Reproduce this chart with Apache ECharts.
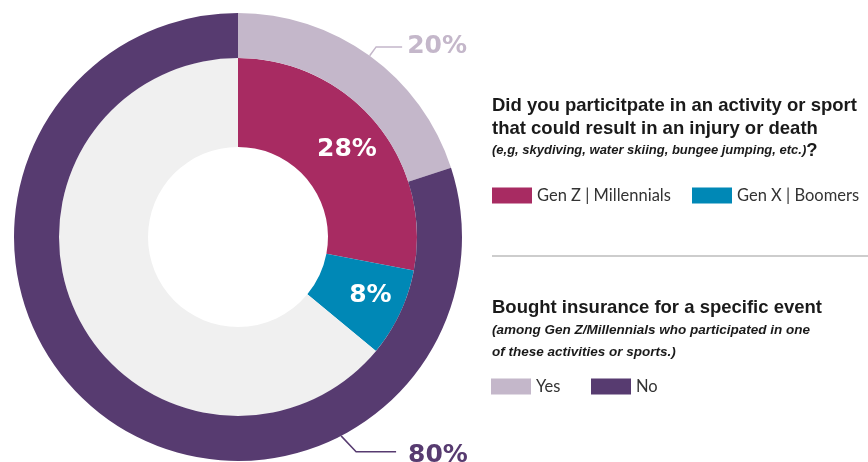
<!DOCTYPE html>
<html>
<head>
<meta charset="utf-8">
<style>
  html, body { margin: 0; padding: 0; background: #ffffff; }
  #chart { width: 868px; height: 462px; }
</style>
<script src="https://cdn.jsdelivr.net/npm/echarts@6/dist/echarts.min.js"></script>
</head>
<body>
<div id="chart"></div>
<script>
// Inner ring: share of each generation that took part in a risky activity
const participationNames = ['Gen Z | Millennials', 'Gen X | Boomers', 'Remainder'];
const participationValues = [28, 8, 64];

// Outer ring: Gen Z / Millennial participants who bought event insurance
const insuranceNames = ['Yes', 'No'];
const insuranceValues = [20, 80];

const COLORS = {
  genZ: '#a82b62',
  genX: '#0088b6',
  rest: '#f0f0f0',
  yes: '#c4b7ca',
  no: '#573b70'
};

const CENTER = [238, 237];
const INNER_R = [90, 179];
const OUTER_R = [179, 224];
// direction (degrees clockwise from 12 o'clock) where the "No" callout leaves the ring
const NO_CALLOUT_DEG = 152.6;

const chart = echarts.init(document.getElementById('chart'), null, { renderer: 'canvas' });

const HEAD_FONT = '"Liberation Sans", Arial, sans-serif';
const BODY_FONT = 'Lato, "Open Sans", sans-serif';
const PCT_FONT = '"DejaVu Sans", Verdana, sans-serif';

function legendAt(name, left, top) {
  return {
    data: [name],
    left: left,
    top: top,
    padding: 0,
    orient: 'horizontal',
    icon: 'rect',
    itemWidth: 40,
    itemHeight: 16,
    selectedMode: false,
    textStyle: { fontFamily: BODY_FONT, fontSize: 16.5, color: '#333333' }
  };
}

const option = {
  animation: false,
  backgroundColor: '#ffffff',
  title: [
    {
      left: 492,
      top: 94,
      padding: 0,
      text: '{h|Did you particitpate in an activity or sport}\n{h|that could result in an injury or death}\n{s|(e,g, skydiving, water skiing, bungee jumping, etc.)}{q|?}',
      textStyle: {
        rich: {
          h: { fontFamily: HEAD_FONT, fontWeight: 'bold', fontSize: 18.5, color: '#1a1a1a', lineHeight: 23 },
          s: { fontFamily: HEAD_FONT, fontWeight: 'bold', fontStyle: 'italic', fontSize: 13, color: '#1a1a1a', lineHeight: 21 },
          q: { fontFamily: HEAD_FONT, fontWeight: 'bold', fontSize: 18.5, color: '#1a1a1a', lineHeight: 21 }
        }
      }
    },
    {
      left: 492,
      top: 297,
      padding: 0,
      text: '{h|Bought insurance for a specific event}\n{s|(among Gen Z/Millennials who participated in one}\n{s|of these activities or sports.)}',
      textStyle: {
        rich: {
          h: { fontFamily: HEAD_FONT, fontWeight: 'bold', fontSize: 18.5, color: '#1a1a1a', lineHeight: 22 },
          s: { fontFamily: HEAD_FONT, fontWeight: 'bold', fontStyle: 'italic', fontSize: 13.5, color: '#1a1a1a', lineHeight: 22 }
        }
      }
    }
  ],
  legend: [
    legendAt('Gen Z | Millennials', 492, 187),
    legendAt('Gen X | Boomers', 692, 187),
    legendAt('Yes', 491, 378),
    legendAt('No', 591, 378)
  ],
  graphic: [
    {
      type: 'line',
      shape: { x1: 492, y1: 256, x2: 868, y2: 256 },
      style: { stroke: '#bdbdbd', lineWidth: 1.5 },
      silent: true
    }
  ],
  series: [
    {
      type: 'pie',
      name: 'Participation',
      center: CENTER,
      radius: INNER_R,
      startAngle: 90,
      clockwise: true,
      avoidLabelOverlap: false,
      silent: true,
      emphasis: { disabled: true },
      data: participationNames.map(function (n, i) {
        const colorKey = ['genZ', 'genX', 'rest'][i];
        return {
          name: n,
          value: participationValues[i],
          itemStyle: { color: COLORS[colorKey] },
          label: i === 2 ? { show: false } : { show: true, offset: i === 0 ? [3, 0] : [8, 0] }
        };
      }),
      label: {
        position: 'inside',
        formatter: '{c}%',
        color: '#ffffff',
        fontFamily: PCT_FONT,
        fontWeight: 'bold',
        fontSize: 25
      },
      labelLine: { show: false }
    },
    {
      type: 'pie',
      name: 'Insurance',
      center: CENTER,
      radius: OUTER_R,
      startAngle: 90,
      clockwise: true,
      avoidLabelOverlap: false,
      silent: true,
      emphasis: { disabled: true },
      data: insuranceNames.map(function (n, i) {
        const c = i === 0 ? COLORS.yes : COLORS.no;
        return {
          name: n,
          value: insuranceValues[i],
          itemStyle: { color: c },
          label: { color: c },
          labelLine: { lineStyle: { color: c } }
        };
      }),
      label: {
        show: true,
        position: 'outside',
        formatter: '{c}%',
        fontFamily: PCT_FONT,
        fontWeight: 'bold',
        fontSize: 25,
        distanceToLabelLine: 5
      },
      labelLine: {
        show: true,
        length: 11,
        length2: 26,
        smooth: false,
        lineStyle: { width: 1.5 }
      },
      labelLayout: function (p) {
        if (p.dataIndex !== 1) return {};
        const a = NO_CALLOUT_DEG * Math.PI / 180;
        const x0 = CENTER[0] + OUTER_R[1] * Math.sin(a);
        const y0 = CENTER[1] - OUTER_R[1] * Math.cos(a);
        const x1 = x0 + 15;
        const y1 = y0 + 16;
        const x2 = x1 + 40;
        return {
          x: x2 + 12,
          y: y1 + 4,
          align: 'left',
          verticalAlign: 'middle',
          labelLinePoints: [[x0, y0], [x1, y1], [x2, y1]]
        };
      }
    }
  ]
};

chart.setOption(option);
</script>
</body>
</html>
